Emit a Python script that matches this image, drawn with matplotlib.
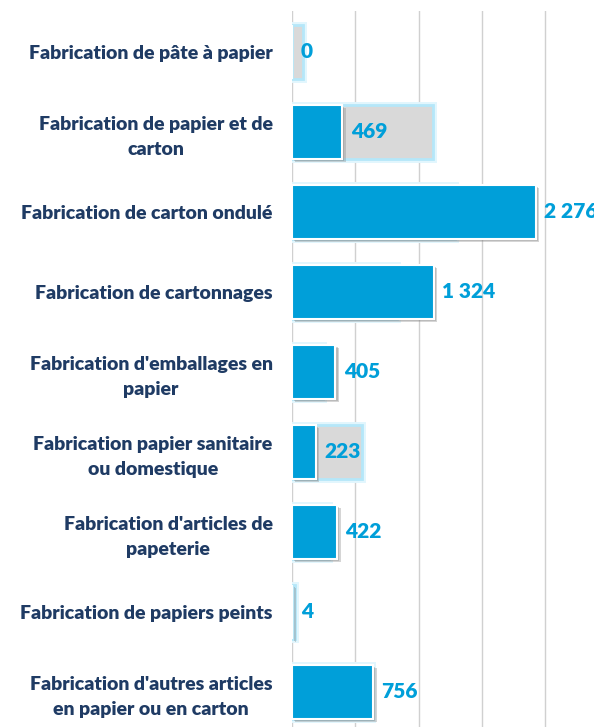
import numpy as np
import matplotlib
matplotlib.use("Agg")
from matplotlib import pyplot as plt
import matplotlib.patheffects as pe

categories = [
    "Fabrication de pâte à papier",
    "Fabrication de papier et de\ncarton",
    "Fabrication de carton ondulé",
    "Fabrication de cartonnages",
    "Fabrication d'emballages en\npapier",
    "Fabrication papier sanitaire\nou domestique",
    "Fabrication d'articles de\npapeterie",
    "Fabrication de papiers peints",
    "Fabrication d'autres articles\nen papier ou en carton",
]
values = [0, 469, 2276, 1324, 405, 223, 422, 4, 756]
# background (grey) series in the same units
background = [105, 1315, 1520, 980, 290, 653, 345, 28, 748]
value_labels = ["0", "469", "2 276", "1 324", "405", "223", "422", "4", "756"]

blue = "#009FD9"
grey = "#D9D9D9"
navy = "#1F3B64"

plt.rcParams['font.family'] = ['Lato', 'DejaVu Sans']

fig = plt.figure(figsize=(5.94, 7.27), dpi=100)
ax = fig.add_axes([292 / 594, 0, 302 / 594, 716 / 727])

y = np.arange(len(categories))

ax.barh(y, background, height=0.68, color=grey, edgecolor="#B5E7F9", linewidth=2,
        zorder=2, path_effects=[pe.Stroke(linewidth=5, foreground="#E2F6FD"), pe.Normal()])
ax.barh(y, values, height=0.68, color=blue, edgecolor="white", linewidth=1.5, zorder=3,
        path_effects=[pe.SimplePatchShadow(offset=(2.5, -2.5), shadow_rgbFace="#888888", alpha=0.35),
                      pe.SimplePatchShadow(offset=(1.5, -1.5), shadow_rgbFace="#777777", alpha=0.3),
                      pe.Normal()])

# value labels just right of each blue bar (the last one runs off the edge, as in the source)
for yi, v, lab in zip(y, values, value_labels):
    ax.annotate(lab, (v, yi), xytext=(6, 0), textcoords="offset points",
                va="center", ha="left", color=blue, fontsize=15, fontweight="heavy",
                zorder=4, annotation_clip=False)

ax.set_xlim(0, 2817)
ax.set_ylim(8.44, -0.51)
ax.set_xticks(np.arange(0, 2817, 590))
ax.xaxis.grid(True, color="#D0D0D0", linewidth=1)
ax.set_axisbelow(True)
ax.tick_params(axis="x", length=0, labelbottom=False)
ax.tick_params(axis="y", length=0, pad=14)
ax.set_yticks(y)
ax.set_yticklabels(categories, fontsize=14, fontweight="heavy", color=navy,
                   multialignment="center", linespacing=1.55)
for s in ax.spines.values():
    s.set_visible(False)

fig.savefig("out.png", dpi=100)
